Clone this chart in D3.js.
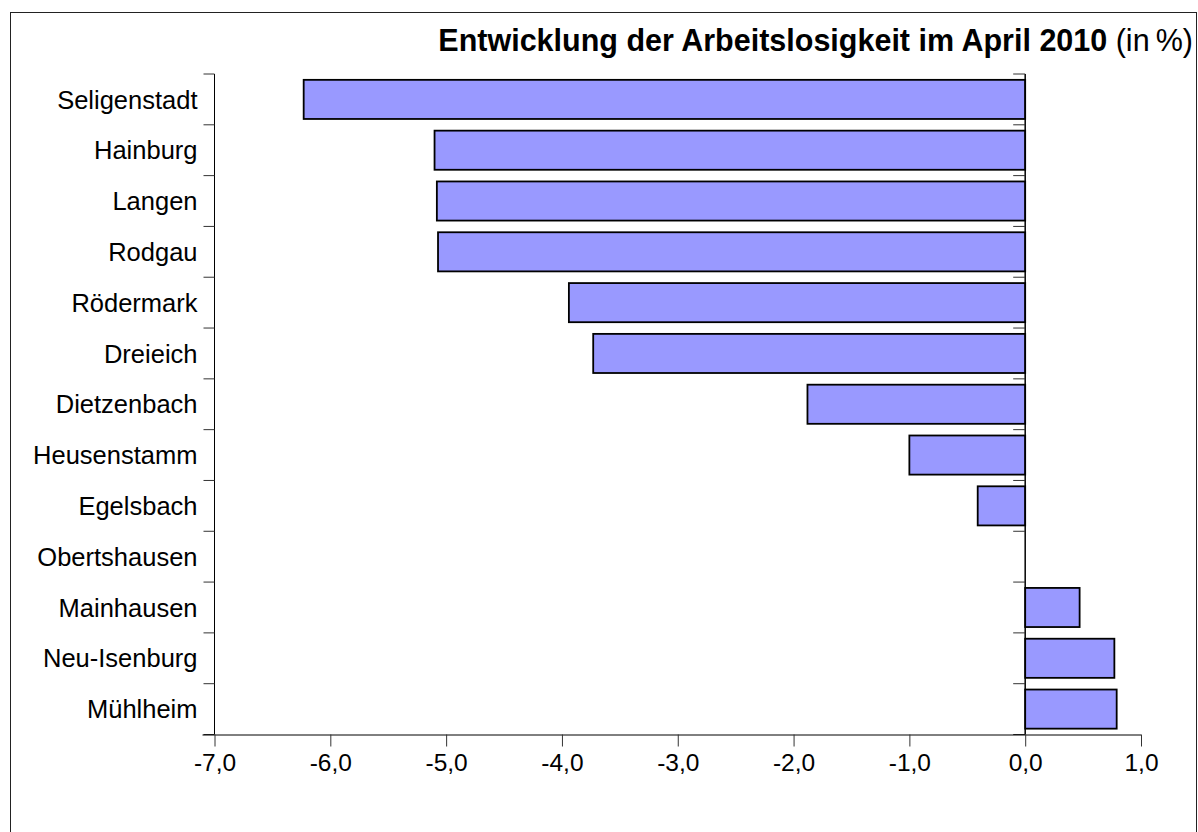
<!DOCTYPE html>
<html>
<head>
<meta charset="utf-8">
<script src="https://cdn.jsdelivr.net/npm/d3@7"></script>
<style>
  body { margin: 0; background: #fff; }
  svg text { font-family: "Liberation Sans", Arial, sans-serif; fill: #000; }
</style>
</head>
<body>
<svg id="chart" width="1198" height="832"></svg>
<script>
// data
const towns = ["Seligenstadt", "Hainburg", "Langen", "Rodgau", "Rödermark", "Dreieich",
  "Dietzenbach", "Heusenstamm", "Egelsbach", "Obertshausen", "Mainhausen", "Neu-Isenburg", "Mühlheim"]
const change = [-6.23, -5.10, -5.08, -5.07, -3.94, -3.73, -1.88, -1.00, -0.41, 0.0, 0.47, 0.77, 0.79]
const xTicks = [-7, -6, -5, -4, -3, -2, -1, 0, 1]

const svg = d3.select("#chart")
const plotLeft = 214.5, plotRight = 1141, plotTop = 74, plotBottom = 734.5

// frame round the whole chart
svg.append("rect")
  .attr("x", 10.5).attr("y", 12.5)
  .attr("width", 1186).attr("height", 840)
  .attr("fill", "none").attr("stroke", "#222").attr("stroke-width", 1)

const de = d3.formatLocale({ decimal: ",", thousands: ".", grouping: [3], currency: ["", " €"], minus: "-" })
const fmt = de.format(".1f")

const x = d3.scaleLinear().domain([-7, 1]).range([plotLeft, plotRight])
const y = d3.scaleBand().domain(towns).range([plotTop, plotBottom]).paddingInner(0.23).paddingOuter(0.115)

// bars
svg.append("g").selectAll("rect")
  .data(towns)
  .join("rect")
    .attr("x", (d, i) => x(Math.min(0, change[i])))
    .attr("y", d => y(d))
    .attr("width", (d, i) => Math.abs(x(change[i]) - x(0)))
    .attr("height", y.bandwidth())
    .attr("fill", "#9999ff")
    .attr("stroke", "#000")
    .attr("stroke-width", 1.8)

// band boundaries for the tick marks on the vertical lines
const bounds = d3.range(towns.length + 1).map(i => plotTop + i * y.step())

// left category axis
const yAxis = svg.append("g").attr("transform", `translate(${plotLeft},0)`)
yAxis.append("line").attr("y1", plotTop).attr("y2", plotBottom).attr("stroke", "#000")
yAxis.selectAll("line.tk").data(bounds).join("line").attr("class", "tk")
  .attr("x1", -11).attr("x2", 0).attr("y1", d => d).attr("y2", d => d)
  .attr("stroke", "#333")
yAxis.selectAll("text").data(towns).join("text")
  .attr("x", -17).attr("y", d => y(d) + y.bandwidth() / 2)
  .attr("dy", "0.36em").attr("text-anchor", "end")
  .attr("font-size", 25.5).text(d => d)

// zero line with its ticks
const zero = svg.append("g").attr("transform", `translate(${x(0)},0)`)
zero.append("line").attr("y1", plotTop).attr("y2", plotBottom).attr("stroke", "#000").attr("stroke-width", 1.5)
zero.selectAll("line.tk").data(bounds).join("line").attr("class", "tk")
  .attr("x1", -12).attr("x2", 0).attr("y1", d => d).attr("y2", d => d)
  .attr("stroke", "#333")

// value axis
const xAxis = svg.append("g")
  .attr("transform", `translate(0,${plotBottom})`)
  .call(d3.axisBottom(x).tickValues(xTicks).tickFormat(fmt).tickSize(12).tickSizeOuter(0).tickPadding(7))
xAxis.select(".domain").attr("d", `M${plotLeft - 12},0.5H${plotRight}`).attr("stroke", "#000")
xAxis.selectAll(".tick line").attr("stroke", "#333")
xAxis.selectAll(".tick text").attr("font-size", 24.5)
  .attr("font-family", "Liberation Sans, Arial, sans-serif").attr("fill", "#000")

// title
const title = svg.append("text")
  .attr("x", 1193).attr("y", 51).attr("text-anchor", "end").attr("font-size", 30.5)
title.append("tspan").attr("font-weight", "bold").text("Entwicklung der Arbeitslosigkeit im April 2010")
title.append("tspan").text(" (in\u2009%)")
</script>
</body>
</html>
